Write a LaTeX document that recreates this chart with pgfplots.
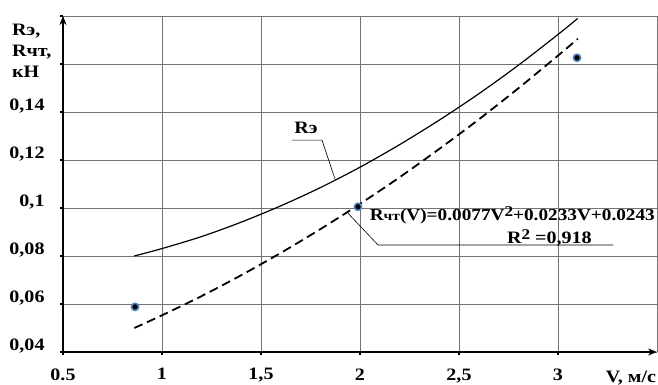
\documentclass[border=0pt]{standalone}
\usepackage{fontspec}
\setmainfont{Liberation Serif}[FakeStretch=1.15]
\usepackage{pgfplots}
\pgfplotsset{compat=1.18}
\usetikzlibrary{arrows.meta}
\definecolor{halo}{RGB}{79,129,189}
\newcommand{\lbl}{\bfseries\fontsize{17.5}{21}\selectfont}
\begin{document}
\begin{tikzpicture}
\path[use as bounding box] (0bp,0bp) rectangle (658bp,385bp);
\begin{axis}[
  at={(63bp,33bp)}, anchor=south west,
  scale only axis, width=594bp, height=336bp,
  xmin=0.5, xmax=3.5, ymin=0.04, ymax=0.18,
  axis lines=left,
  axis line style={line width=2.2pt, -{Stealth[length=9pt,width=7pt]}},
  xtick={0.5,1,1.5,2,2.5,3},
  xticklabels={0.5,1,{1,5},2,{2,5},3},
  ytick={0.04,0.06,0.08,0.1,0.12,0.14,0.16,0.18},
  yticklabels={{0,04},{0,06},{0,08},{0,1},{0,12},{0,14},{},{}},
  grid=major,
  grid style={black!55, line width=0.7pt},
  tick style={black, line width=2pt},
  major tick length=3pt, tick align=outside,
  ticklabel style={font=\lbl},
  xticklabel style={yshift=-10pt},
  yticklabel style={xshift=-12pt, yshift=6pt},
  clip=false,
]
\draw[black!55, line width=0.7pt] (axis cs:3.5,0.04) -- (axis cs:3.5,0.18);
% R_e (solid)
\addplot[black, line width=1.2pt, smooth] coordinates {
 (0.86,0.0800) (1.0,0.0831) (1.2,0.0881) (1.4,0.0941) (1.6,0.1009)
 (1.8,0.1085) (2.0,0.1170) (2.2,0.1264) (2.4,0.1366) (2.6,0.1476)
 (2.8,0.1595) (3.0,0.1723) (3.1,0.1790)};
% R_cht (dashed trend)
\addplot[black, line width=1.8pt, dash pattern=on 9pt off 5pt, smooth] coordinates {
 (0.86,0.0500) (1.0,0.0553) (1.2,0.0633) (1.4,0.0720) (1.6,0.0813)
 (1.8,0.0912) (2.0,0.1017) (2.2,0.1128) (2.4,0.1246) (2.6,0.1369)
 (2.8,0.1499) (3.0,0.1635) (3.1,0.1705)};
% measured points
\addplot[only marks, mark=*, mark size=3.6pt,
  mark options={fill=black, draw=halo, line width=1.6pt}] coordinates {
 (0.864,0.0588) (1.99,0.1005) (3.096,0.1626)};
% annotations
\node[font=\lbl, inner sep=0pt] at (axis cs:1.727,0.1333) {Rэ};
\draw[black, line width=0.6pt] (axis cs:1.657,0.1283) -- (axis cs:1.808,0.1283) -- (axis cs:1.874,0.112);
\node[font=\bfseries\fontsize{16.8}{20}\selectfont, anchor=east, inner sep=0pt] at (axis cs:3.49,0.0971) {R{\fontsize{13.5}{16}\selectfont чт}(V)=0.0077V\raisebox{0.55ex}{\fontsize{15}{16}\selectfont 2}+0.0233V+0.0243};
\node[font=\lbl, anchor=west, inner sep=0pt] at (axis cs:2.742,0.0875) {R\raisebox{0.55ex}{\fontsize{15}{16}\selectfont 2} =0,918};
\draw[black, line width=0.6pt] (axis cs:1.934,0.0983) -- (axis cs:2.091,0.0846) -- (axis cs:3.278,0.0846);
\end{axis}
\node[font=\lbl, align=left, anchor=west, inner sep=0pt] at (12bp,334bp) {Rэ,\\Rчт,\\кН};
\node[font=\lbl, inner sep=0pt] at (631bp,7bp) {V, м/с};
\end{tikzpicture}
\end{document}
